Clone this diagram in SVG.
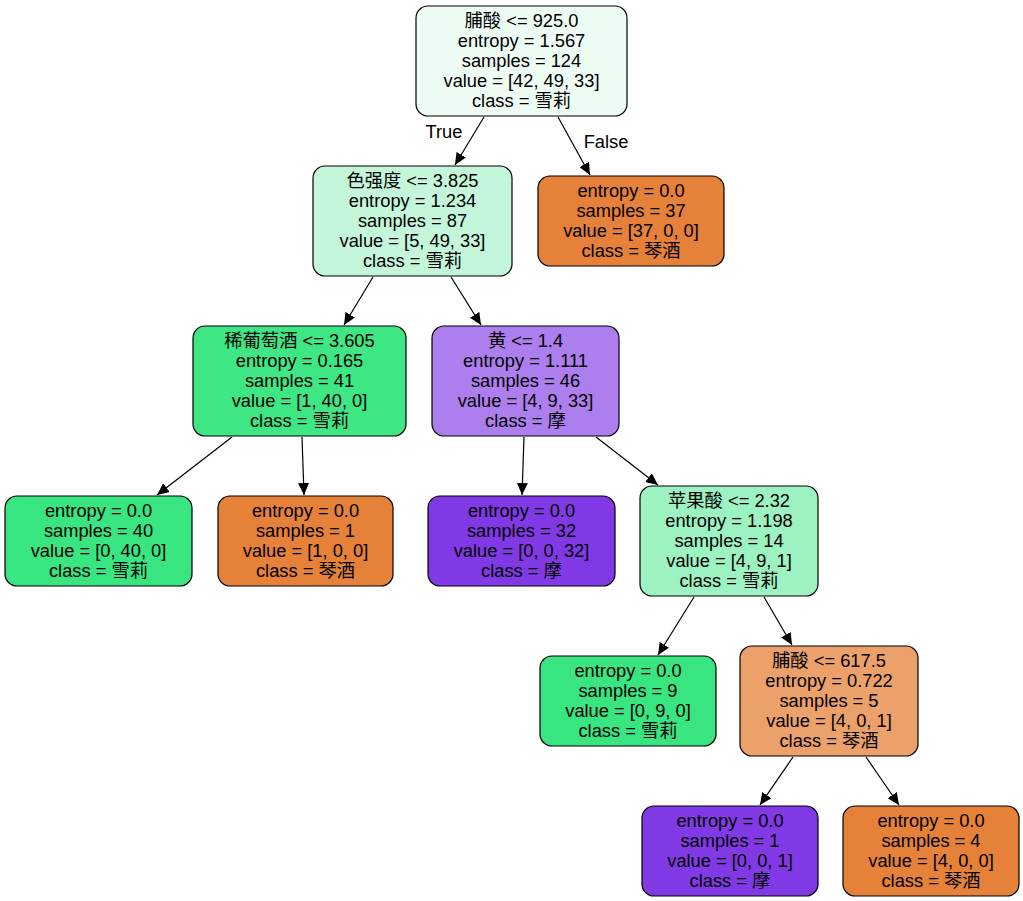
<svg xmlns="http://www.w3.org/2000/svg" width="1023" height="901" viewBox="0 0 1023 901">
<defs>
<style>
.n rect{stroke:#000;stroke-width:1.2}
text{font-family:"Liberation Sans","Noto Sans CJK SC",sans-serif;font-size:18.3px;fill:#000;text-anchor:middle}
.e line{stroke:#000;stroke-width:1.2}
</style>
<marker id="ah" markerWidth="13" markerHeight="11" refX="12" refY="5.5" orient="auto" markerUnits="userSpaceOnUse">
<path d="M0,0 L12,5.5 L0,11 Z" fill="#000"/>
</marker>
</defs>
<rect width="1023" height="901" fill="#fff"/>
<g id="edges" class="e">
<line x1="484" y1="117" x2="455" y2="165" marker-end="url(#ah)"/>
<line x1="558" y1="117" x2="590" y2="175" marker-end="url(#ah)"/>
<line x1="373" y1="277" x2="344" y2="325" marker-end="url(#ah)"/>
<line x1="451" y1="277" x2="481" y2="325" marker-end="url(#ah)"/>
<line x1="232" y1="437" x2="157" y2="495" marker-end="url(#ah)"/>
<line x1="302" y1="437" x2="304" y2="495" marker-end="url(#ah)"/>
<line x1="524" y1="437" x2="522" y2="495" marker-end="url(#ah)"/>
<line x1="596" y1="437" x2="658" y2="485" marker-end="url(#ah)"/>
<line x1="694" y1="597" x2="658" y2="655" marker-end="url(#ah)"/>
<line x1="764" y1="597" x2="792" y2="645" marker-end="url(#ah)"/>
<line x1="793" y1="757" x2="760" y2="805" marker-end="url(#ah)"/>
<line x1="866" y1="757" x2="899" y2="805" marker-end="url(#ah)"/>
<text x="444" y="138">True</text>
<text x="606" y="148">False</text>
</g>
<g id="node0" class="n">
<rect x="416" y="6" width="211" height="110" rx="12" fill="#eefdf4"/>
<text x="521.5" y="26.5">脯酸 &lt;= 925.0</text>
<text x="521.5" y="46.5">entropy = 1.567</text>
<text x="521.5" y="66.5">samples = 124</text>
<text x="521.5" y="86.5">value = [42, 49, 33]</text>
<text x="521.5" y="106.5">class = 雪莉</text>
</g>
<g id="node1" class="n">
<rect x="313" y="166" width="199" height="110" rx="12" fill="#c4f7da"/>
<text x="412.5" y="186.5">色强度 &lt;= 3.825</text>
<text x="412.5" y="206.5">entropy = 1.234</text>
<text x="412.5" y="226.5">samples = 87</text>
<text x="412.5" y="246.5">value = [5, 49, 33]</text>
<text x="412.5" y="266.5">class = 雪莉</text>
</g>
<g id="node2" class="n">
<rect x="538" y="176" width="186" height="90" rx="12" fill="#e58139"/>
<text x="631" y="196.5">entropy = 0.0</text>
<text x="631" y="216.5">samples = 37</text>
<text x="631" y="236.5">value = [37, 0, 0]</text>
<text x="631" y="256.5">class = 琴酒</text>
</g>
<g id="node3" class="n">
<rect x="193" y="326" width="213" height="110" rx="12" fill="#3ee684"/>
<text x="299.5" y="346.5">稀葡萄酒 &lt;= 3.605</text>
<text x="299.5" y="366.5">entropy = 0.165</text>
<text x="299.5" y="386.5">samples = 41</text>
<text x="299.5" y="406.5">value = [1, 40, 0]</text>
<text x="299.5" y="426.5">class = 雪莉</text>
</g>
<g id="node4" class="n">
<rect x="432" y="326" width="187" height="110" rx="12" fill="#ad7eee"/>
<text x="525.5" y="346.5">黄 &lt;= 1.4</text>
<text x="525.5" y="366.5">entropy = 1.111</text>
<text x="525.5" y="386.5">samples = 46</text>
<text x="525.5" y="406.5">value = [4, 9, 33]</text>
<text x="525.5" y="426.5">class = 摩</text>
</g>
<g id="node5" class="n">
<rect x="5" y="496" width="187" height="90" rx="12" fill="#39e581"/>
<text x="98.5" y="516.5">entropy = 0.0</text>
<text x="98.5" y="536.5">samples = 40</text>
<text x="98.5" y="556.5">value = [0, 40, 0]</text>
<text x="98.5" y="576.5">class = 雪莉</text>
</g>
<g id="node6" class="n">
<rect x="218" y="496" width="175" height="90" rx="12" fill="#e58139"/>
<text x="305.5" y="516.5">entropy = 0.0</text>
<text x="305.5" y="536.5">samples = 1</text>
<text x="305.5" y="556.5">value = [1, 0, 0]</text>
<text x="305.5" y="576.5">class = 琴酒</text>
</g>
<g id="node7" class="n">
<rect x="428" y="496" width="187" height="90" rx="12" fill="#8139e5"/>
<text x="521.5" y="516.5">entropy = 0.0</text>
<text x="521.5" y="536.5">samples = 32</text>
<text x="521.5" y="556.5">value = [0, 0, 32]</text>
<text x="521.5" y="576.5">class = 摩</text>
</g>
<g id="node8" class="n">
<rect x="640" y="486" width="178" height="110" rx="12" fill="#9cf2c0"/>
<text x="729" y="506.5">苹果酸 &lt;= 2.32</text>
<text x="729" y="526.5">entropy = 1.198</text>
<text x="729" y="546.5">samples = 14</text>
<text x="729" y="566.5">value = [4, 9, 1]</text>
<text x="729" y="586.5">class = 雪莉</text>
</g>
<g id="node9" class="n">
<rect x="540" y="656" width="176" height="90" rx="12" fill="#39e581"/>
<text x="628" y="676.5">entropy = 0.0</text>
<text x="628" y="696.5">samples = 9</text>
<text x="628" y="716.5">value = [0, 9, 0]</text>
<text x="628" y="736.5">class = 雪莉</text>
</g>
<g id="node10" class="n">
<rect x="740" y="646" width="178" height="110" rx="12" fill="#eca06a"/>
<text x="829" y="666.5">脯酸 &lt;= 617.5</text>
<text x="829" y="686.5">entropy = 0.722</text>
<text x="829" y="706.5">samples = 5</text>
<text x="829" y="726.5">value = [4, 0, 1]</text>
<text x="829" y="746.5">class = 琴酒</text>
</g>
<g id="node11" class="n">
<rect x="642" y="806" width="176" height="90" rx="12" fill="#8139e5"/>
<text x="730" y="826.5">entropy = 0.0</text>
<text x="730" y="846.5">samples = 1</text>
<text x="730" y="866.5">value = [0, 0, 1]</text>
<text x="730" y="886.5">class = 摩</text>
</g>
<g id="node12" class="n">
<rect x="843" y="806" width="176" height="90" rx="12" fill="#e58139"/>
<text x="931" y="826.5">entropy = 0.0</text>
<text x="931" y="846.5">samples = 4</text>
<text x="931" y="866.5">value = [4, 0, 0]</text>
<text x="931" y="886.5">class = 琴酒</text>
</g>
</svg>
